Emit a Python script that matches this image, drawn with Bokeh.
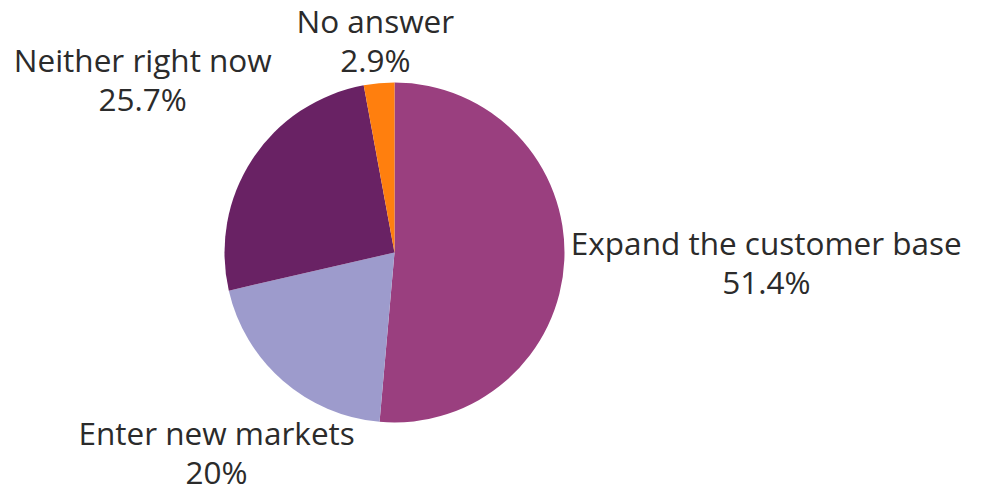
import numpy as np
from bokeh.plotting import figure
from bokeh.models import Range1d, ColumnDataSource
from bokeh.embed import file_html
from bokeh.resources import INLINE
from bokeh.core.properties import value

categories = ["Expand the customer base", "Enter new markets", "Neither right now", "No answer"]
shares = [51.4, 20.0, 25.7, 2.9]
share_labels = ["51.4%", "20%", "25.7%", "2.9%"]
colors = ["#9a3f7f", "#9d9bcc", "#692264", "#ff7f0e"]

# label placement offsets (screen px) relative to the mid-angle anchor
label_dx = [194, -61, -103, -3]
label_dy = [1.5, 65.5, -75.5, -35]

W, H = 981, 486
cx, cy, R = 394, -252, 170
anchor_r = R + 8

frac = np.array(shares) / sum(shares)
cum = np.concatenate([[0.0], np.cumsum(frac)])
start = np.pi / 2 - 2 * np.pi * cum[:-1]
end = np.pi / 2 - 2 * np.pi * cum[1:]
mid = (start + end) / 2

lx = cx + anchor_r * np.cos(mid) + np.array(label_dx)
ly = cy + anchor_r * np.sin(mid) - np.array(label_dy)
texts = [f"{c}\n{s}" for c, s in zip(categories, share_labels)]

src = ColumnDataSource(dict(start=start, end=end, color=colors,
                            x=[cx] * len(shares), y=[cy] * len(shares)))
lsrc = ColumnDataSource(dict(x=lx, y=ly, text=texts))

p = figure(width=W, height=H, output_backend="svg", toolbar_location=None,
           x_range=Range1d(0, W), y_range=Range1d(-H, 0),
           min_border=0, outline_line_color=None)
p.axis.visible = False
p.grid.visible = False
p.background_fill_color = "white"
p.border_fill_color = "white"

p.wedge(x="x", y="y", radius=R, start_angle="start", end_angle="end",
        direction="clock", fill_color="color", line_color=None, source=src)

p.text(x="x", y="y", text="text", source=lsrc,
       text_font=value("Open Sans"), text_font_size="31.5px",
       text_color="#2b2b2b", text_align="center", text_baseline="middle",
       text_line_height=0.9)

open("out.html", "w").write(file_html(p, INLINE))
